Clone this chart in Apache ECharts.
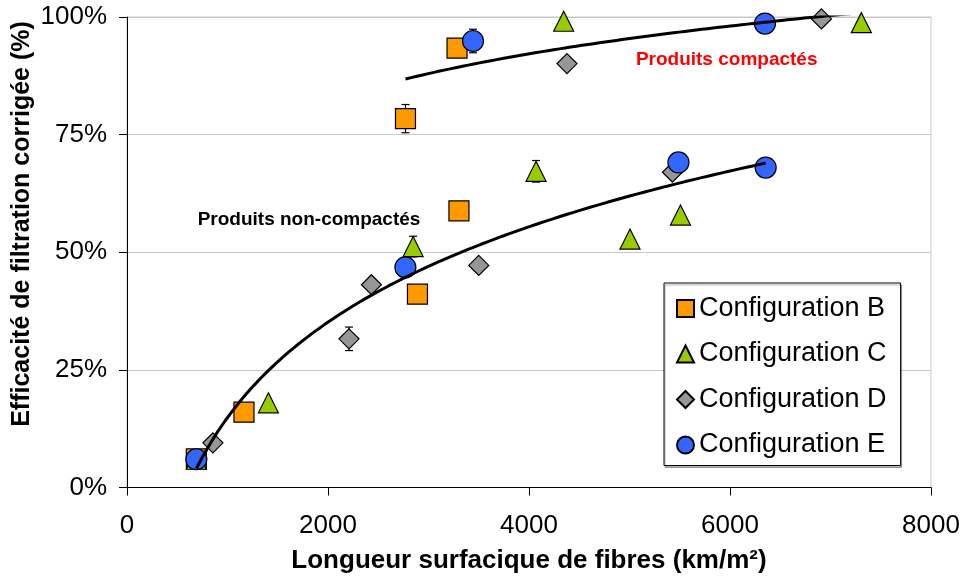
<!DOCTYPE html>
<html>
<head>
<meta charset="utf-8">
<script src="https://cdn.jsdelivr.net/npm/echarts@6/dist/echarts.min.js"></script>
<style>
html, body { margin: 0; padding: 0; background: #fff; }
#chart { width: 963px; height: 578px; }
</style>
</head>
<body>
<div id="chart"></div>
<script>
// valeurs (x en km/m², y en %)
var configNames = ['Configuration B', 'Configuration C', 'Configuration D', 'Configuration E'];

var configB_x = [690, 1164, 2890, 3303, 2771, 3284];
var configB_y = [6.1, 16.0, 41.1, 58.8, 78.4, 93.4];
var configB_err = [0, 0, 0, 0, 3.0, 0];
var configB_comp = [0, 0, 0, 0, 1, 1];

var configC_x = [690, 1407, 2847, 4070, 5005, 5507, 4345, 7307];
var configC_y = [6.0, 18.0, 51.2, 67.2, 52.8, 57.9, 99.1, 98.8];
var configC_err = [0, 0, 2.2, 2.3, 0, 0, 0, 0];
var configC_comp = [0, 0, 0, 0, 0, 0, 1, 1];

var configD_x = [855, 2209, 2432, 3500, 5427, 4378, 6910];
var configD_y = [9.5, 31.6, 43.1, 47.2, 67.0, 90.1, 99.6];
var configD_err = [0, 2.5, 0, 0, 0, 0, 0];
var configD_comp = [0, 0, 0, 0, 0, 1, 1];

var configE_x = [690, 2770, 5487, 6355, 3443, 6348];
var configE_y = [6.0, 46.8, 69.1, 68.0, 94.9, 98.6];
var configE_err = [0, 0, 0, 0, 2.5, 0];
var configE_comp = [0, 0, 0, 0, 1, 1];

var xTicks = [0, 2000, 4000, 6000, 8000];
var yTicks = [0, 25, 50, 75, 100];

var annotTexts = ['Produits non-compactés', 'Produits compactés'];
var annotX = [703, 5967];
var annotY = [56.9, 91.0];

var configs = [
	{ x: configB_x, y: configB_y, err: configB_err, comp: configB_comp, symbol: 'rect', color: '#FF9900', size: 20 },
	{ x: configC_x, y: configC_y, err: configC_err, comp: configC_comp, symbol: 'triangle', color: '#99CC00', size: 20 },
	{ x: configD_x, y: configD_y, err: configD_err, comp: configD_comp, symbol: 'diamond', color: '#969696', size: 20 },
	{ x: configE_x, y: configE_y, err: configE_err, comp: configE_comp, symbol: 'circle', color: '#3366FF', size: 21 }
];

// courbe de tendance logarithmique (moindres carrés sur ln x)
function logTrend(xs, ys) {
	var n = xs.length, sx = 0, sy = 0, sxx = 0, sxy = 0;
	for (var i = 0; i < n; i++) {
		var lx = Math.log(xs[i]);
		sx += lx; sy += ys[i]; sxx += lx * lx; sxy += lx * ys[i];
	}
	var a = (n * sxy - sx * sy) / (n * sxx - sx * sx);
	var b = (sy - a * sx) / n;
	var xmin = Math.min.apply(null, xs), xmax = Math.max.apply(null, xs);
	var pts = [];
	for (var k = 0; k <= 80; k++) {
		var xv = xmin + (xmax - xmin) * k / 80;
		pts.push([xv, a * Math.log(xv) + b]);
	}
	return pts;
}

function groupPoints(flag) {
	var xs = [], ys = [];
	configs.forEach(function (c) {
		for (var i = 0; i < c.x.length; i++) {
			if (c.comp[i] === flag) { xs.push(c.x[i]); ys.push(c.y[i]); }
		}
	});
	return logTrend(xs, ys);
}

var series = [];

// barres d'erreur
var errData = [];
configs.forEach(function (c) {
	for (var i = 0; i < c.x.length; i++) {
		if (c.err[i] > 0) errData.push([c.x[i], c.y[i] - c.err[i], c.y[i] + c.err[i]]);
	}
});
series.push({
	type: 'custom',
	silent: true,
	z: 1,
	data: errData,
	renderItem: function (params, api) {
		var lo = api.coord([api.value(0), api.value(1)]);
		var hi = api.coord([api.value(0), api.value(2)]);
		var w = 4;
		var st = { stroke: '#000', lineWidth: 1.2 };
		return {
			type: 'group',
			children: [
				{ type: 'line', shape: { x1: lo[0], y1: lo[1], x2: hi[0], y2: hi[1] }, style: st },
				{ type: 'line', shape: { x1: lo[0] - w, y1: lo[1], x2: lo[0] + w, y2: lo[1] }, style: st },
				{ type: 'line', shape: { x1: hi[0] - w, y1: hi[1], x2: hi[0] + w, y2: hi[1] }, style: st }
			]
		};
	}
});

configs.forEach(function (c, idx) {
	var data = [];
	for (var i = 0; i < c.x.length; i++) data.push([c.x[i], c.y[i]]);
	series.push({
		name: configNames[idx],
		type: 'scatter',
		symbol: c.symbol,
		symbolSize: c.size,
		z: 2 + idx * 0.1,
		data: data,
		itemStyle: { color: c.color, borderColor: '#000', borderWidth: 1.2, opacity: 1 }
	});
});

[0, 1].forEach(function (flag) {
	series.push({
		type: 'line',
		silent: true,
		symbol: 'none',
		z: 5,
		data: groupPoints(flag),
		lineStyle: { color: '#000', width: 3 }
	});
});

var chart = echarts.init(document.getElementById('chart'));
var option = {
	backgroundColor: '#fff',
	animation: false,
	textStyle: { fontFamily: 'Liberation Sans, Arial, sans-serif' },
	grid: {
		left: 127, right: 32, top: 17, bottom: 90.5,
		outerBoundsMode: 'none',
		containLabel: false,
		show: true, borderColor: '#c8c8c8', borderWidth: 1
	},
	legend: {
		data: configNames,
		orient: 'vertical',
		left: 664, top: 283,
		padding: [12, 14, 7, 12],
		itemGap: 18.5,
		itemWidth: 17, itemHeight: 17,
		backgroundColor: '#fff',
		borderColor: '#000', borderWidth: 1,
		shadowColor: 'rgba(0,0,0,0.3)', shadowOffsetX: 1, shadowOffsetY: 2,
		textStyle: { fontSize: 27, color: '#000', fontFamily: 'Liberation Sans, Arial, sans-serif' }
	},
	xAxis: {
		type: 'value',
		min: 0, max: 8000, interval: 2000,
		name: 'Longueur surfacique de fibres (km/m²)',
		nameLocation: 'middle',
		nameGap: 60,
		nameTextStyle: { fontSize: 26, fontWeight: 'bold', color: '#000' },
		axisLine: { lineStyle: { color: '#000', width: 1 } },
		axisTick: { show: true, length: 8, lineStyle: { color: '#000' } },
		axisLabel: {
			fontSize: 26, color: '#000', margin: 25,
			formatter: function (v) { return xTicks.indexOf(v) >= 0 ? String(v) : ''; }
		},
		splitLine: { show: false }
	},
	yAxis: {
		type: 'value',
		min: 0, max: 100, interval: 25,
		axisLine: { show: true, lineStyle: { color: '#000', width: 1 } },
		axisTick: { show: true, length: 8, lineStyle: { color: '#000' } },
		axisLabel: {
			fontSize: 26, color: '#000', margin: 20,
			formatter: function (v) { return yTicks.indexOf(v) >= 0 ? v + '%' : ''; }
		},
		splitLine: { show: true, lineStyle: { color: '#c8c8c8', width: 1 } }
	},
	series: series
};
chart.setOption(option, true);

var graphics = [{
	type: 'text',
	x: 22, y: 224,
	rotation: Math.PI / 2,
	style: {
		text: 'Efficacité de filtration corrigée (%)',
		fontSize: 25, fontWeight: 'bold', fill: '#000',
		fontFamily: 'Liberation Sans, Arial, sans-serif',
		align: 'center', verticalAlign: 'middle'
	}
}];
annotTexts.forEach(function (t, i) {
	var p = chart.convertToPixel({ gridIndex: 0 }, [annotX[i], annotY[i]]);
	graphics.push({
		type: 'text',
		x: p[0], y: p[1],
		z: 10,
		style: {
			text: t,
			fontSize: 19, fontWeight: 'bold',
			fill: i === 0 ? '#000' : '#FF0000',
			fontFamily: 'Liberation Sans, Arial, sans-serif',
			align: i === 0 ? 'left' : 'center', verticalAlign: 'middle'
		}
	});
});
chart.setOption({ graphic: graphics });
</script>
</body>
</html>
